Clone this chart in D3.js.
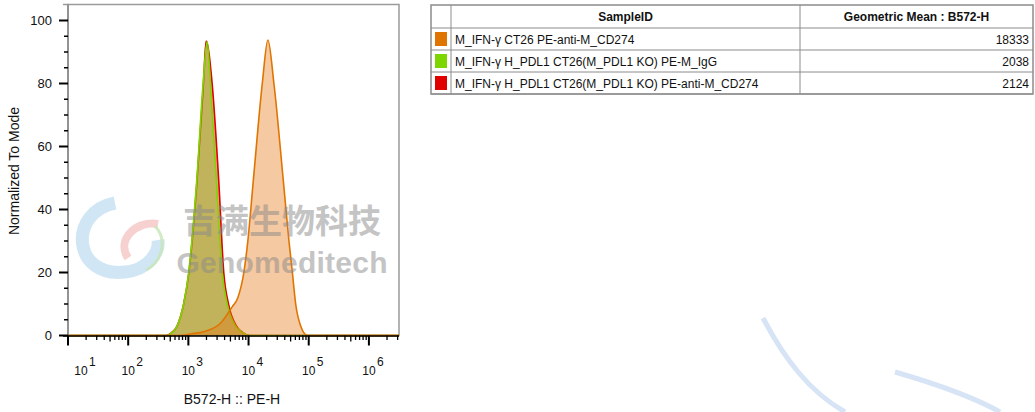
<!DOCTYPE html>
<html>
<head>
<meta charset="utf-8">
<script src="https://cdn.jsdelivr.net/npm/d3@7"></script>
<style>
  body { margin: 0; background: #fff; }
  svg { font-family: "Liberation Sans", Arial, sans-serif; }
</style>
</head>
<body>
<svg id="chart"></svg>
<script>
// histogram data (fluorescence value, normalized to mode %)
const orangeX = [10, 736, 1080, 1799, 3415, 5350, 6637, 8350, 9730, 11980, 16920, 20970, 26400, 37880, 46940, 53500, 60700, 73500, 95000, 3162278];
const orangeY = [0, 0, 0.5, 1.2, 3.9, 9.1, 12, 20, 30, 49, 80, 93.8, 80, 49, 30, 20, 10, 3, 0, 0];
const greenX = [10, 442, 501, 649, 835, 1012, 1375, 1758, 2050, 2327, 2929, 3645, 4416, 6070, 7943, 10000, 3162278];
const greenY = [0, 0, 0.5, 3, 10, 20, 49, 80, 93.3, 80, 49, 20, 10, 3, 1, 0, 0];
const redX = [10, 430, 501, 649, 835, 1020, 1390, 1780, 1972, 2483, 3199, 3873, 4642, 6310, 7943, 10390, 3162278];
const redY = [0, 0, 0.6, 3, 10, 20, 49, 80, 93.5, 80, 49, 20, 10, 3, 1, 0, 0];

const sampleIds = [
  "M_IFN-γ CT26 PE-anti-M_CD274",
  "M_IFN-γ H_PDL1 CT26(M_PDL1 KO) PE-M_IgG",
  "M_IFN-γ H_PDL1 CT26(M_PDL1 KO) PE-anti-M_CD274"
];
const geoMeans = [18333, 2038, 2124];
const swatchColors = ["#e07400", "#7ed600", "#e00000"];

const yTicks = [0, 20, 40, 60, 80, 100];
const xDecades = [1, 2, 3, 4, 5, 6];

const width = 1035, height = 412;
const pLeft = 68, pRight = 399, pTop = 4.5, pBottom = 335.5;

const svg = d3.select("#chart").attr("width", width).attr("height", height);

const x = d3.scaleLog().domain([10, Math.pow(10, 6.5)]).range([pLeft, pRight]);
const y = d3.scaleLinear().domain([0, 100]).range([pBottom, 20.5]);

// frame
svg.append("rect")
  .attr("x", pLeft).attr("y", pTop)
  .attr("width", pRight - pLeft).attr("height", pBottom - pTop)
  .attr("fill", "none").attr("stroke", "#9a9a9a").attr("stroke-width", 1.5);
svg.append("line").attr("x1", 63).attr("x2", pLeft).attr("y1", pTop).attr("y2", pTop)
  .attr("stroke", "#9a9a9a").attr("stroke-width", 1.5);

// histograms
const series = [
  { xs: redX, ys: redY, stroke: "#e00000", fill: "rgba(230,0,0,0.4)" },
  { xs: greenX, ys: greenY, stroke: "#7ed600", fill: "rgba(115,215,0,0.4)" },
  { xs: orangeX, ys: orangeY, stroke: "#e07400", fill: "rgba(230,120,20,0.4)" }
];
const area = d3.area().x(d => x(d[0])).y0(y(0)).y1(d => y(d[1])).curve(d3.curveMonotoneX);
const line = d3.line().x(d => x(d[0])).y(d => y(d[1])).curve(d3.curveMonotoneX);
series.forEach(s => {
  const pts = s.xs.map((v, i) => [v, s.ys[i]]);
  svg.append("path").datum(pts).attr("d", area).attr("fill", s.fill);
  svg.append("path").datum(pts).attr("d", line)
    .attr("fill", "none").attr("stroke", s.stroke).attr("stroke-width", 1.6);
});

// y axis
const yMinor = d3.range(0, 101, 5).filter(v => v % 20 !== 0);
svg.append("line").attr("x1", pLeft).attr("x2", pLeft).attr("y1", pTop).attr("y2", pBottom + 1)
  .attr("stroke", "#888").attr("stroke-width", 1.5);
svg.selectAll(".ymaj").data(yTicks).enter().append("line")
  .attr("x1", pLeft - 9).attr("x2", pLeft).attr("y1", d => y(d)).attr("y2", d => y(d))
  .attr("stroke", "#000").attr("stroke-width", 2);
svg.selectAll(".ymin").data(yMinor).enter().append("line")
  .attr("x1", pLeft - 4).attr("x2", pLeft).attr("y1", d => y(d)).attr("y2", d => y(d))
  .attr("stroke", "#000").attr("stroke-width", 1.5);
svg.selectAll(".ylab").data(yTicks).enter().append("text")
  .attr("x", 52).attr("y", d => y(d)).attr("dy", "0.35em")
  .attr("text-anchor", "end").attr("font-size", 13).attr("fill", "#111")
  .text(d => d);

// x axis
svg.append("line").attr("x1", 63).attr("x2", pRight).attr("y1", pBottom + 0.5).attr("y2", pBottom + 0.5)
  .attr("stroke", "#000").attr("stroke-width", 1.5);
const xMinor = [];
[1, 2, 3, 4, 5, 6].forEach(e => {
  for (let m = 2; m <= 9; m++) {
    const v = m * Math.pow(10, e);
    if (v <= x.domain()[1]) xMinor.push({ v, m });
  }
});
svg.selectAll(".xmaj").data(xDecades).enter().append("line")
  .attr("x1", d => x(Math.pow(10, d))).attr("x2", d => x(Math.pow(10, d)))
  .attr("y1", pBottom).attr("y2", pBottom + 10)
  .attr("stroke", "#000").attr("stroke-width", 2);
svg.selectAll(".xmin").data(xMinor).enter().append("line")
  .attr("x1", d => x(d.v)).attr("x2", d => x(d.v))
  .attr("y1", pBottom).attr("y2", d => pBottom + (d.m === 5 ? 6 : 4.5))
  .attr("stroke", "#000").attr("stroke-width", 1.3);
const xl = svg.selectAll(".xlab").data(xDecades).enter().append("g")
  .attr("transform", d => `translate(${Math.max(x(Math.pow(10, d)), pLeft + 13)},375)`);
xl.append("text").attr("text-anchor", "middle").attr("font-size", 12).attr("fill", "#111").text("10");
xl.append("text").attr("x", 8).attr("y", -9).attr("font-size", 12).attr("fill", "#111").text(d => d);

// axis titles
svg.append("text").attr("x", 232).attr("y", 404).attr("text-anchor", "middle")
  .attr("font-size", 14).attr("fill", "#111").text("B572-H :: PE-H");
svg.append("text").attr("transform", "translate(19,171) rotate(-90)").attr("text-anchor", "middle")
  .attr("font-size", 14).attr("fill", "#111").text("Normalized To Mode");

// watermark
const wm = svg.append("g").attr("pointer-events", "none");
wm.append("path").attr("d", "M115,203 C68,212 72,278 125,272 C148,270 160,252 158,240")
  .attr("fill", "none").attr("stroke", "#b3d6ee").attr("stroke-width", 13).attr("opacity", 0.6);
wm.append("path").attr("d", "M158,224 C136,220 116,240 128,258")
  .attr("fill", "none").attr("stroke", "#f2b0b0").attr("stroke-width", 8).attr("opacity", 0.6);
wm.append("path").attr("d", "M155,226 C168,240 162,262 146,270")
  .attr("fill", "none").attr("stroke", "#c6e6b6").attr("stroke-width", 3).attr("opacity", 0.8);
wm.append("text").attr("x", 282).attr("y", 233).attr("text-anchor", "middle")
  .attr("font-family", "Noto Sans CJK SC").attr("font-weight", "bold").attr("font-size", 33)
  .attr("fill", "#8a8a8a").attr("opacity", 0.5).text("吉满生物科技");
wm.append("text").attr("x", 282).attr("y", 273).attr("text-anchor", "middle")
  .attr("font-weight", "bold").attr("font-size", 30).attr("textLength", 211)
  .attr("fill", "#8a8a8a").attr("opacity", 0.5).text("Genomeditech");
wm.append("path").attr("d", "M763,318 C785,360 810,392 845,412")
  .attr("fill", "none").attr("stroke", "#d6e4f5").attr("stroke-width", 5);
wm.append("path").attr("d", "M895,372 C940,385 975,398 1000,412")
  .attr("fill", "none").attr("stroke", "#d6e4f5").attr("stroke-width", 5);

// legend table
const tX = 431, tW = 602, swW = 20, col2 = 800, rowH = 22, hdrH = 23, tY = 5;
const tbl = svg.append("g");
tbl.append("rect").attr("x", tX).attr("y", tY).attr("width", tW).attr("height", hdrH + rowH * 3)
  .attr("fill", "#fff").attr("stroke", "#8c8c8c").attr("stroke-width", 1.5);
[tX + swW, col2].forEach(cx => tbl.append("line").attr("x1", cx).attr("x2", cx)
  .attr("y1", tY).attr("y2", tY + hdrH + rowH * 3).attr("stroke", "#8c8c8c"));
d3.range(4).forEach(i => tbl.append("line").attr("x1", tX).attr("x2", tX + tW)
  .attr("y1", tY + hdrH + rowH * i).attr("y2", tY + hdrH + rowH * i).attr("stroke", "#8c8c8c"));
tbl.append("text").attr("x", (tX + swW + col2) / 2).attr("y", tY + 16).attr("text-anchor", "middle")
  .attr("font-size", 12).attr("font-weight", "bold").attr("fill", "#111").text("SampleID");
tbl.append("text").attr("x", (col2 + tX + tW) / 2).attr("y", tY + 16).attr("text-anchor", "middle")
  .attr("font-size", 12).attr("font-weight", "bold").attr("fill", "#111").text("Geometric Mean : B572-H");
sampleIds.forEach((s, i) => {
  const ry = tY + hdrH + rowH * i;
  tbl.append("rect").attr("x", tX + 4).attr("y", ry + 4).attr("width", 12).attr("height", 14)
    .attr("fill", swatchColors[i]);
  tbl.append("text").attr("x", tX + swW + 4).attr("y", ry + 15.5).attr("font-size", 12)
    .attr("fill", "#111").text(s);
  tbl.append("text").attr("x", tX + tW - 4).attr("y", ry + 15.5).attr("text-anchor", "end")
    .attr("font-size", 12).attr("fill", "#111").text(geoMeans[i]);
});
</script>
</body>
</html>
